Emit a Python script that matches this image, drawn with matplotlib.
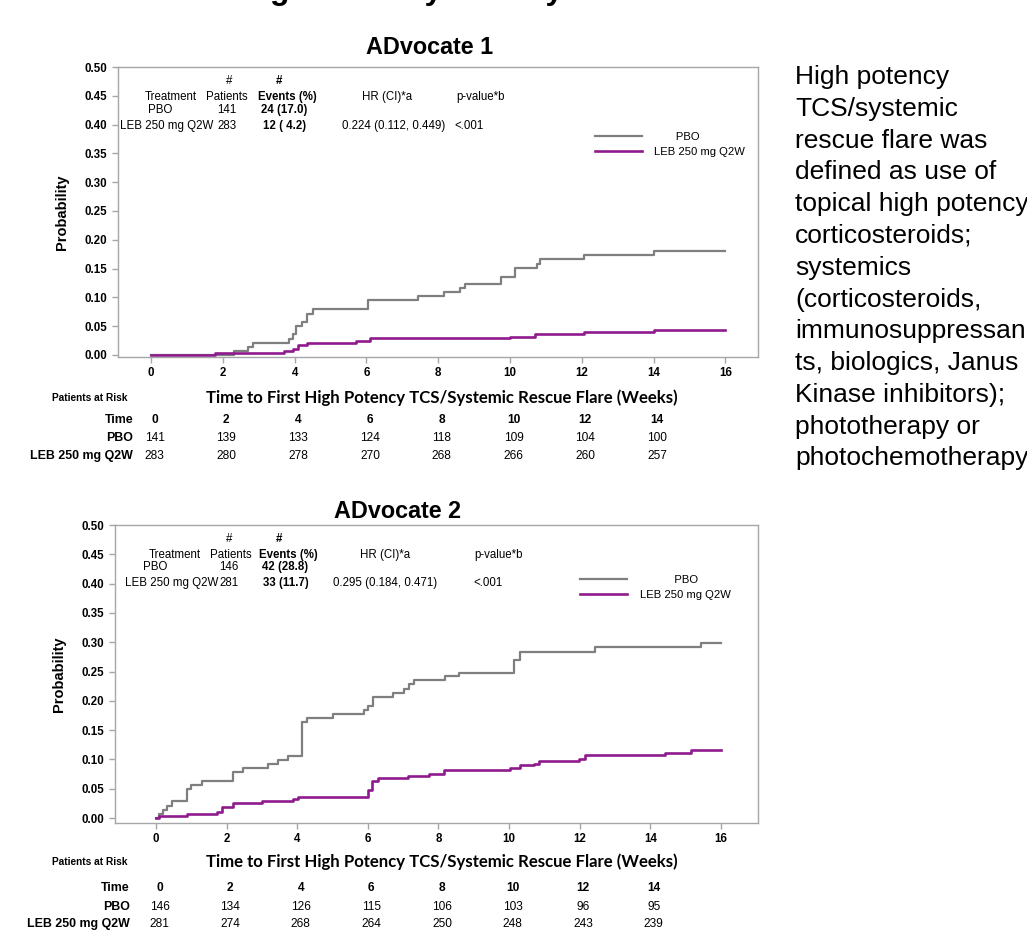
import matplotlib
matplotlib.use("Agg")
import matplotlib.pyplot as plt

plt.rcParams['font.family'] = ['Liberation Sans', 'DejaVu Sans']

# --- data ---
risk_times = [0, 2, 4, 6, 8, 10, 12, 14]

# ADvocate 1
a1_pbo_t = [0, 2.3, 2.7, 2.85, 3.85, 3.95, 4.05, 4.2, 4.35, 4.5, 6.05, 7.45, 8.15, 8.6,
            8.75, 9.75, 10.15, 10.75, 10.85, 12.05, 14.0, 16.0]
a1_pbo_p = [0, 0.007, 0.014, 0.021, 0.028, 0.036, 0.050, 0.058, 0.072, 0.079, 0.095, 0.102,
            0.110, 0.117, 0.124, 0.135, 0.151, 0.158, 0.166, 0.173, 0.181, 0.181]
a1_leb_t = [0, 1.77, 3.7, 3.95, 4.1, 4.35, 5.7, 6.1, 10.0, 10.7, 12.05, 14.0, 16.0]
a1_leb_p = [0, 0.004, 0.007, 0.011, 0.018, 0.021, 0.025, 0.029, 0.032, 0.036, 0.040, 0.044, 0.044]
a1_pbo_risk = [141, 139, 133, 124, 118, 109, 104, 100]
a1_leb_risk = [283, 280, 278, 270, 268, 266, 260, 257]
a1_summary = [["PBO", "141", "24 (17.0)", "", ""],
              ["LEB 250 mg Q2W", "283", "12 ( 4.2)", "0.224 (0.112, 0.449)", "<.001"]]

# ADvocate 2
a2_pbo_t = [0, 0.1, 0.2, 0.32, 0.46, 0.88, 1.0, 1.29, 2.17, 2.46, 3.16, 3.45, 3.74, 4.15,
            4.27, 5.0, 5.89, 6.0, 6.16, 6.71, 7.03, 7.18, 7.3, 8.18, 8.59, 10.15, 10.31,
            12.42, 15.43, 16.0]
a2_pbo_p = [0, 0.007, 0.014, 0.021, 0.029, 0.049, 0.057, 0.064, 0.078, 0.085, 0.092, 0.099,
            0.106, 0.163, 0.170, 0.178, 0.184, 0.191, 0.206, 0.213, 0.221, 0.228, 0.235,
            0.242, 0.248, 0.270, 0.284, 0.292, 0.299, 0.299]
a2_leb_t = [0, 0.08, 0.88, 1.72, 1.88, 2.17, 3.01, 3.89, 4.01, 6.0, 6.12, 6.3, 7.14, 7.73,
            8.15, 10.03, 10.31, 10.72, 10.85, 11.99, 12.16, 14.42, 15.16, 16.0]
a2_leb_p = [0, 0.004, 0.007, 0.011, 0.018, 0.025, 0.029, 0.032, 0.036, 0.047, 0.064, 0.068,
            0.071, 0.075, 0.082, 0.086, 0.090, 0.093, 0.097, 0.100, 0.108, 0.111, 0.116, 0.116]
a2_pbo_risk = [146, 134, 126, 115, 106, 103, 96, 95]
a2_leb_risk = [281, 274, 268, 264, 250, 248, 243, 239]
a2_summary = [["PBO", "146", "42 (28.8)", "", ""],
              ["LEB 250 mg Q2W", "281", "33 (11.7)", "0.295 (0.184, 0.471)", "<.001"]]

note = ("High potency\nTCS/systemic\nrescue flare was\ndefined as use of\n"
        "topical high potency\ncorticosteroids;\nsystemics\n(corticosteroids,\n"
        "immunosuppressan\nts, biologics, Janus\nKinase inhibitors);\n"
        "phototherapy or\nphotochemotherapy")
xlabel = "Time to First High Potency TCS/Systemic Rescue Flare (Weeks)"

PBO_C = '#7f7f7f'
LEB_C = '#8e1a8e'
SPINE_C = '#a6a6a6'

fig = plt.figure(figsize=(10.27, 9.52), dpi=100)

# cropped headline at the very top
fig.text(38 / 1027, 1 + 1 / 952, "Time to First High Potency TCS/Systemic Rescue Flare",
         fontsize=23, fontweight='bold', va='baseline', ha='left')

fig.text(795 / 1027, 1 - 65 / 952, note, fontsize=19, va='top', ha='left', linespacing=1.41)


def panel(rect, xlim, ylim, title, title_xy, pbo, leb, summary, pbo_risk, leb_risk,
          rows_y, tab_x, tab_y, leg_anchor, pbo_pad):
    ax = fig.add_axes(rect)
    l1, = ax.step(pbo[0], pbo[1], where='post', color=PBO_C, lw=1.6, label=pbo_pad + "PBO")
    l2, = ax.step(leb[0], leb[1], where='post', color=LEB_C, lw=1.9, label="LEB 250 mg Q2W")
    ax.set_xlim(*xlim)
    ax.set_ylim(*ylim)
    ax.set_xticks(range(0, 17, 2))
    ax.set_yticks([i * 0.05 for i in range(11)])
    ax.set_yticklabels([f"{i * 0.05:.2f}" for i in range(11)])
    for s in ax.spines.values():
        s.set_color(SPINE_C)
        s.set_linewidth(1.0)
    ax.tick_params(colors=SPINE_C, length=4, width=1, labelcolor='black', labelsize=8.3)
    for lab in ax.get_xticklabels() + ax.get_yticklabels():
        lab.set_fontweight('bold')
    ax.set_ylabel("Probability", fontsize=10.5, fontweight='bold')
    ax.yaxis.set_label_coords(-0.076, 0.5)
    ax.text(title_xy[0], title_xy[1], title, transform=ax.transAxes, ha='center',
            va='baseline', fontsize=16.8, fontweight='bold')

    ax.legend(handles=[l1, l2], loc='upper left', bbox_to_anchor=leg_anchor,
              frameon=False, fontsize=8.1, handlelength=4.2, handletextpad=1.1,
              labelspacing=0.45, borderpad=0, borderaxespad=0)

    # summary table inside the plot
    tt = ax.transAxes
    fs = 8.3
    cx = tab_x
    ax.text(cx[9], tab_y[0], "#", transform=tt, ha='center', va='center', fontsize=fs)
    ax.text(cx[10], tab_y[0], "#", transform=tt, ha='center', va='center', fontsize=fs,
            fontweight='bold')
    heads = ["Treatment", "Patients", "Events (%)", "HR (CI)*a", "p-value*b"]
    for j, h in enumerate(heads):
        ax.text(cx[j], tab_y[1], h, transform=tt, ha='center', va='center', fontsize=fs,
                fontweight='bold' if j == 2 else 'normal')
    for i, row in enumerate(summary):
        y = tab_y[2 + i]
        for j, v in enumerate(row):
            # value columns: treatment, patients, events, HR, p
            x = [cx[5] if i == 0 else cx[6], cx[11], cx[12], cx[7], cx[8]][j]
            ha = 'left' if (j == 0 and i == 1) else 'center'
            ax.text(x, y, v, transform=tt, ha=ha, va='center', fontsize=fs,
                    fontweight='bold' if j == 2 else 'normal')

    # x label, patients at risk table
    tx = ax.get_xaxis_transform()
    ax.text(8.1, rows_y[0], xlabel, transform=tx, ha='center', va='center', fontsize=12.1,
            fontweight='bold', family='Lato', clip_on=False)
    ax.text(rows_y[4], rows_y[0], "Patients at Risk", transform=tx, ha='center',
            va='center', fontsize=7.3, fontweight='bold', clip_on=False)
    lx = rows_y[5]
    for label, vals, y, bold in [("Time", risk_times, rows_y[1], True),
                                 ("PBO", pbo_risk, rows_y[2], False),
                                 ("LEB 250 mg Q2W", leb_risk, rows_y[3], False)]:
        ax.text(lx, y, label, transform=tx, ha='right', va='center', fontsize=8.9,
                fontweight='bold', clip_on=False)
        for t, v in zip(risk_times, vals):
            ax.text(t + 0.1, y, str(v), transform=tx, ha='center', va='center',
                    fontsize=8.6, fontweight='bold' if bold else 'normal', clip_on=False)
    return ax


# top panel: ADvocate 1
# tab_x: 0 Treatment, 1 Patients, 2 Events, 3 HR, 4 p hdr, 5 PBO, 6 LEB(left), 7 HR val,
#        8 p val, 9 '#' patients, 10 '#' events, 11 n val, 12 events val
panel([118 / 1027, 1 - 357 / 952, 640 / 1027, 290 / 952], (-0.92, 16.91), (-0.0035, 0.5),
      "ADvocate 1", (0.4875, 1.045), (a1_pbo_t, a1_pbo_p), (a1_leb_t, a1_leb_p), a1_summary,
      a1_pbo_risk, a1_leb_risk,
      rows_y=[-0.141, -0.217, -0.279, -0.341, -1.7, -0.5],
      tab_x=[0.082, 0.17, 0.264, 0.42, 0.566, 0.066, 0.003, 0.43, 0.548, 0.173, 0.251,
             0.17, 0.26],
      tab_y=[0.952, 0.897, 0.852, 0.797],
      leg_anchor=(0.745, 0.775), pbo_pad=" " * 7)

# bottom panel: ADvocate 2
panel([115 / 1027, 1 - 823 / 952, 643 / 1027, 298 / 952], (-1.16, 17.05), (-0.0085, 0.5),
      "ADvocate 2", (0.44, 1.023), (a2_pbo_t, a2_pbo_p), (a2_leb_t, a2_leb_p), a2_summary,
      a2_pbo_risk, a2_leb_risk,
      rows_y=[-0.13, -0.217, -0.282, -0.339, -1.87, -0.74],
      tab_x=[0.093, 0.18, 0.27, 0.42, 0.596, 0.063, 0.016, 0.42, 0.58, 0.177, 0.255,
             0.177, 0.265],
      tab_y=[0.953, 0.9, 0.858, 0.805],
      leg_anchor=(0.723, 0.832), pbo_pad=" " * 11)

fig.savefig("out.png", dpi=100)
